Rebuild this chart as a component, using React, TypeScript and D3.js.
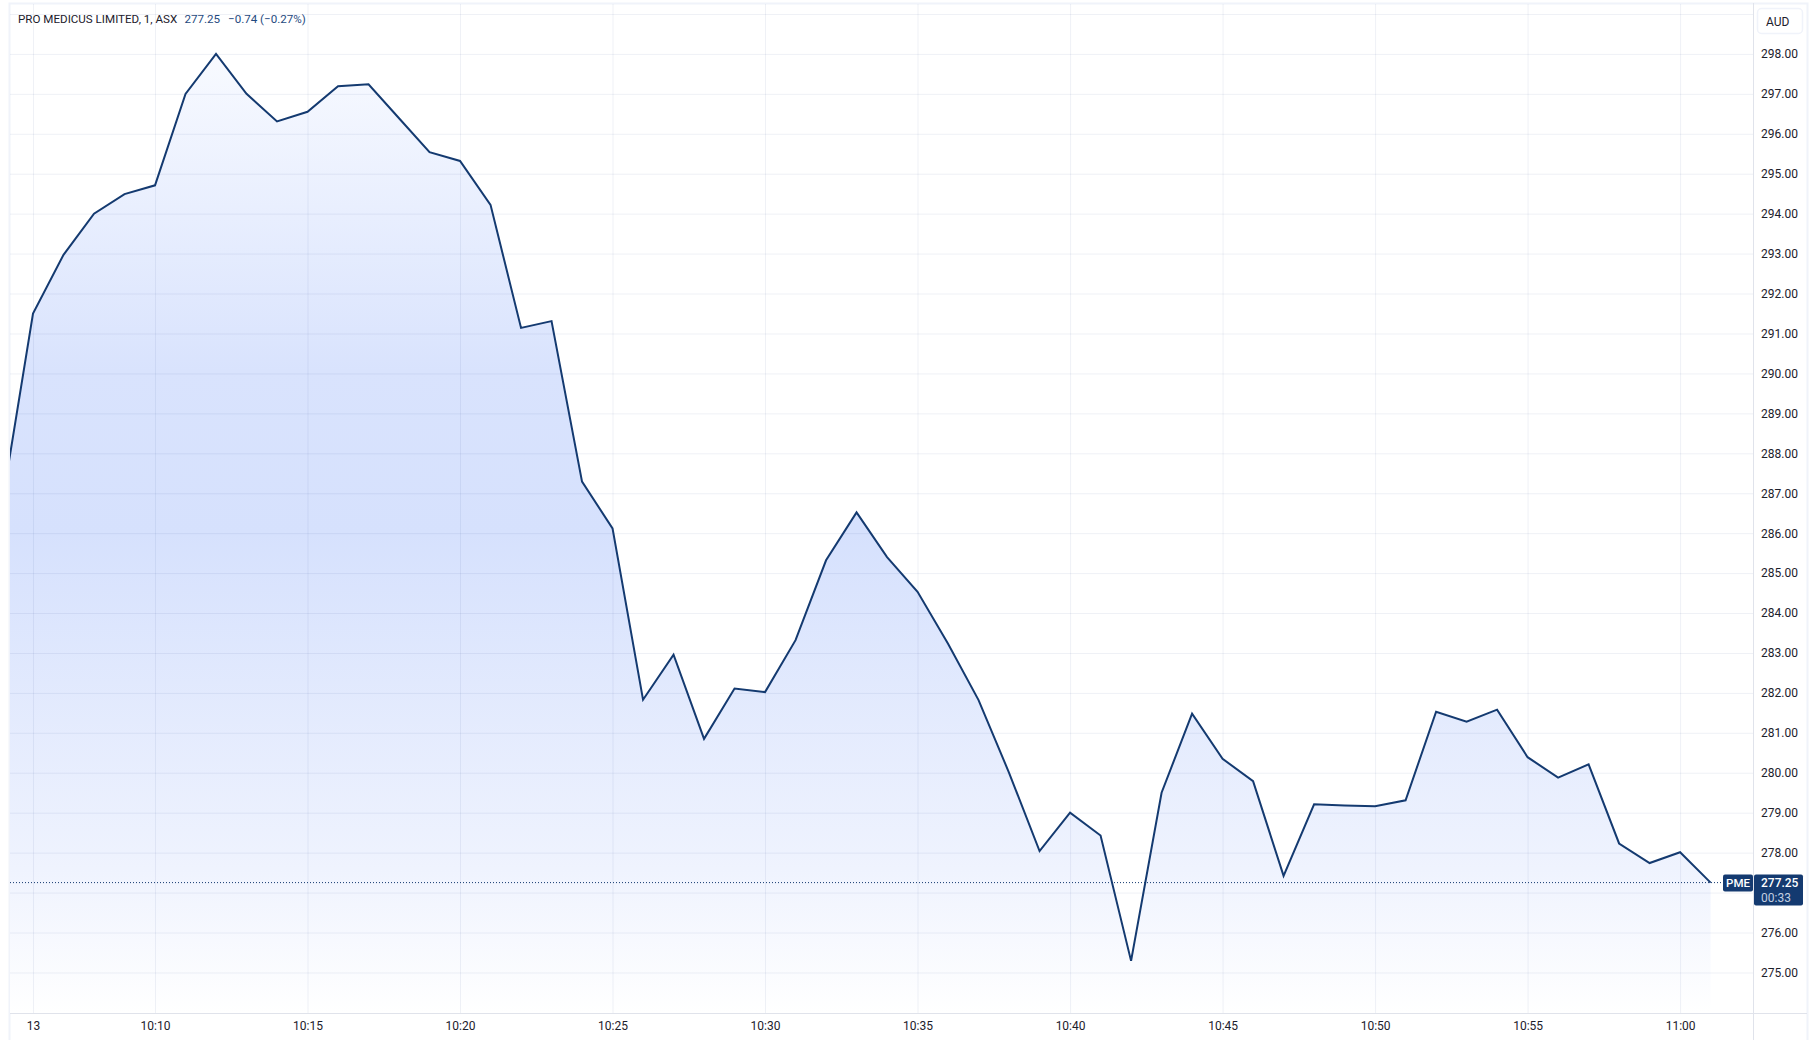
import React, { useEffect, useRef } from "react";
import * as d3 from "d3";

// minutes after 10:00, one close per minute
const minutes = [
  5, 6, 7, 8, 9, 10, 11, 12, 13, 14, 15, 16, 17, 18, 19, 20, 21, 22, 23, 24, 25, 26, 27, 28, 29, 30, 31, 32,
  33, 34, 35, 36, 37, 38, 39, 40, 41, 42, 43, 44, 45, 46, 47, 48, 49, 50, 51, 52, 53, 54, 55, 56, 57, 58, 59,
  60, 61,
];
const closes = [
  286.8, 291.5, 292.97, 294.0, 294.49, 294.71, 297.0, 298.0, 297.0, 296.31, 296.55, 297.19, 297.24, 296.39,
  295.54, 295.32, 294.22, 291.14, 291.31, 287.29, 286.12, 281.83, 282.96, 280.85, 282.11, 282.02, 283.32,
  285.32, 286.52, 285.4, 284.53, 283.23, 281.82, 280.0, 278.04, 279.0, 278.43, 275.29, 279.5, 281.48, 280.35,
  279.79, 277.42, 279.21, 279.18, 279.16, 279.31, 281.53, 281.28, 281.58, 280.39, 279.88, 280.21, 278.23,
  277.74, 278.01, 277.25,
];
const timeTicks = [6, 10, 15, 20, 25, 30, 35, 40, 45, 50, 55, 60];
const timeLabels = ["13", "10:10", "10:15", "10:20", "10:25", "10:30", "10:35", "10:40", "10:45", "10:50", "10:55", "11:00"];
const gridPrices = d3.range(275, 300);
// 277 and 299 sit behind the price tag and the currency button
const labelPrices = gridPrices.filter((p) => p !== 277 && p !== 299);

const lastPrice = 277.25;
const title = "PRO MEDICUS LIMITED, 1, ASX";
const lastText = "277.25";
const changeText = "−0.74 (−0.27%)";
const FONT = "Roboto, sans-serif";
const DARK = "#143a70";
const INK = "#1c202b";

export default function App() {
  const ref = useRef<SVGSVGElement | null>(null);

  useEffect(() => {
    const el = ref.current;
    if (!el) return;
    const svg = d3.select(el);
    svg.selectAll("*").remove();

    const left = 10;
    const top = 4;
    const right = 1753;
    const bottom = 1013;

    const x = d3.scaleLinear().domain([5.236, 62.38]).range([left - 0.3, right - 0.3]);
    const y = d3.scaleLinear().domain([274, 299.26]).range([bottom - 0.6, top - 0.4]);
    const points = minutes.map((m, i) => ({ m, v: closes[i] }));

    const defs = svg.append("defs");
    defs.append("clipPath").attr("id", "plot").append("rect")
      .attr("x", left).attr("y", top).attr("width", right - left).attr("height", bottom - top);
    const grad = defs.append("linearGradient").attr("id", "fade")
      .attr("gradientUnits", "userSpaceOnUse")
      .attr("x1", 0).attr("x2", 0).attr("y1", y(298)).attr("y2", bottom);
    grad.append("stop").attr("offset", 0).attr("stop-color", "#f8faff");
    grad.append("stop").attr("offset", 0.33).attr("stop-color", "#d9e3fd");
    grad.append("stop").attr("offset", 0.5).attr("stop-color", "#d6e1fd");
    grad.append("stop").attr("offset", 0.85).attr("stop-color", "#eff3fe");
    grad.append("stop").attr("offset", 1).attr("stop-color", "#ffffff");

    // frame
    svg.append("rect").attr("x", 0).attr("y", 0).attr("width", 1817).attr("height", 1040).attr("fill", "#fff");
    svg.append("path")
      .attr("d", `M${left - 0.5},1040V3.5H1807.5V1040`)
      .attr("fill", "none").attr("stroke", "#f0f3fa").attr("stroke-width", 2);

    const plot = svg.append("g").attr("clip-path", "url(#plot)");

    plot.append("path").datum(points)
      .attr("d", d3.area<{ m: number; v: number }>().x((d) => x(d.m)).y0(bottom).y1((d) => y(d.v)))
      .attr("fill", "url(#fade)");

    // grid goes over the fill, it shows through a little darker
    const gridX = d3.axisBottom(x).tickValues(timeTicks).tickSize(-(bottom - top)).tickFormat(() => "");
    const gridY = d3.axisRight(y).tickValues(gridPrices).tickSize(-(right - left)).tickFormat(() => "");
    plot.append("g").attr("transform", `translate(0,${bottom})`).call(gridX)
      .call((g) => g.select(".domain").remove())
      .call((g) => g.selectAll("line").attr("stroke", "rgba(30,60,130,0.07)"));
    plot.append("g").attr("transform", `translate(${right},0)`).call(gridY)
      .call((g) => g.select(".domain").remove())
      .call((g) => g.selectAll("line").attr("stroke", "rgba(30,60,130,0.07)"));

    plot.append("line")
      .attr("x1", left).attr("x2", x(60) + 43)
      .attr("y1", y(lastPrice)).attr("y2", y(lastPrice))
      .attr("stroke", DARK).attr("stroke-dasharray", "1 2");

    plot.append("path").datum(points)
      .attr("d", d3.line<{ m: number; v: number }>().x((d) => x(d.m)).y((d) => y(d.v)))
      .attr("fill", "none").attr("stroke", DARK).attr("stroke-width", 2).attr("stroke-linejoin", "miter");

    // axes
    svg.append("line").attr("x1", left).attr("x2", 1807).attr("y1", bottom + 0.5).attr("y2", bottom + 0.5).attr("stroke", "#e0e3eb");
    svg.append("line").attr("x1", right + 0.5).attr("x2", right + 0.5).attr("y1", 3).attr("y2", 1040).attr("stroke", "#e0e3eb");

    const yAxis = d3.axisRight(y).tickValues(labelPrices).tickSize(0).tickPadding(8).tickFormat((d) => d3.format(".2f")(d as number));
    svg.append("g").attr("transform", `translate(${right},0)`).call(yAxis)
      .call((g) => g.select(".domain").remove())
      .call((g) => g.selectAll("text").attr("font-family", FONT).attr("font-size", 12).attr("fill", INK));

    const xAxis = d3.axisBottom(x).tickValues(timeTicks).tickSize(0).tickPadding(8)
      .tickFormat((_, i) => timeLabels[i]);
    svg.append("g").attr("transform", `translate(0,${bottom})`).call(xAxis)
      .call((g) => g.select(".domain").remove())
      .call((g) => g.selectAll("text").attr("font-family", FONT).attr("font-size", 12).attr("fill", INK));

    // currency button
    svg.append("rect").attr("x", 1757.5).attr("y", 8.5).attr("width", 45).attr("height", 25).attr("rx", 4)
      .attr("fill", "#fff").attr("stroke", "#f0f3fa").attr("stroke-width", 1.5);
    svg.append("text").attr("x", 1766).attr("y", 26).attr("font-family", FONT).attr("font-size", 12).attr("fill", INK).text("AUD");

    // last price tags
    const tagY = y(lastPrice);
    svg.append("rect").attr("x", 1723).attr("y", tagY - 8).attr("width", 30).attr("height", 17).attr("rx", 2).attr("fill", DARK);
    svg.append("text").attr("x", 1738).attr("y", tagY + 4).attr("text-anchor", "middle")
      .attr("font-family", FONT).attr("font-size", 11.5).attr("font-weight", 500).attr("fill", "#fff").text("PME");
    svg.append("rect").attr("x", 1754).attr("y", tagY - 8).attr("width", 49).attr("height", 31).attr("rx", 2).attr("fill", DARK);
    svg.append("text").attr("x", 1761).attr("y", tagY + 4).attr("font-family", FONT).attr("font-size", 12).attr("font-weight", 500).attr("fill", "#fff").text(lastText);
    svg.append("text").attr("x", 1761).attr("y", tagY + 19).attr("font-family", FONT).attr("font-size", 12).attr("fill", "#c3cfe0").text("00:33");

    // legend
    svg.append("text").attr("x", 18).attr("y", 23).attr("font-family", FONT).attr("font-size", 11.6).attr("fill", INK).text(title);
    svg.append("text").attr("x", 184.5).attr("y", 23).attr("font-family", FONT).attr("font-size", 11.6).attr("fill", "#1f4a80").text(lastText);
    svg.append("text").attr("x", 228).attr("y", 23).attr("font-family", FONT).attr("font-size", 11.6).attr("fill", "#1f4a80").text(changeText);
  }, []);

  return <svg ref={ref} width={1817} height={1040} style={{ position: "absolute", left: 0, top: 0, display: "block" }} />;
}
